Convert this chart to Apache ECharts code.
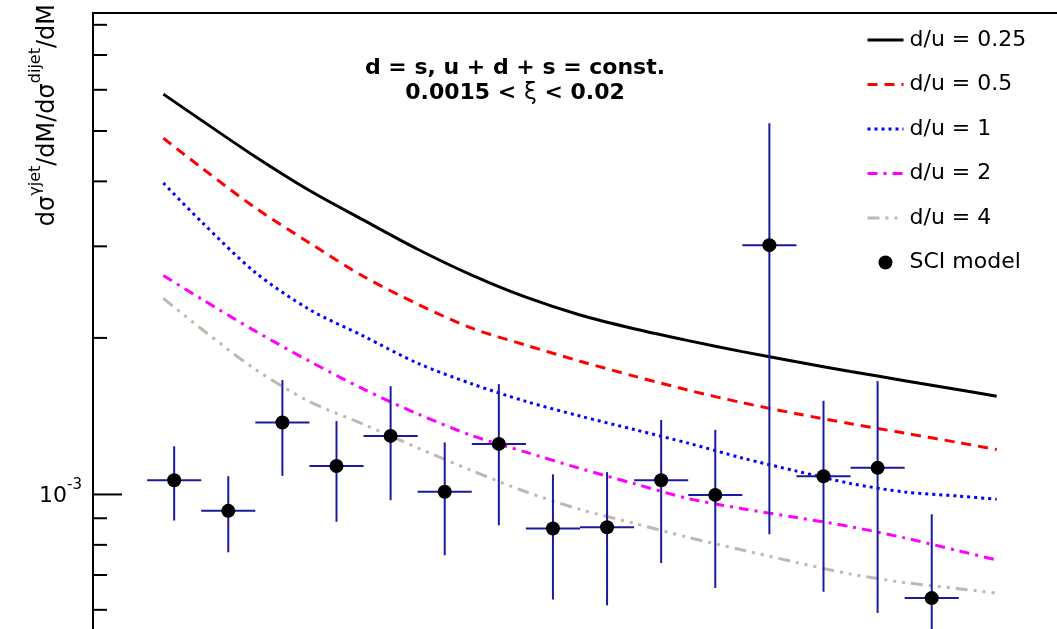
<!DOCTYPE html>
<html>
<head>
<meta charset="utf-8">
<script src="https://cdn.jsdelivr.net/npm/echarts@6/dist/echarts.min.js"></script>
<style>
  html, body { margin: 0; padding: 0; background: #fff; }
  #chart { width: 1057px; height: 629px; }
</style>
</head>
<body>
<div id="chart"></div>
<script>
// mass grid for the model curves
const massGrid = [33, 40, 50, 60, 70, 80, 90, 100, 110, 120, 130, 140, 150, 160, 170, 180, 187]
const du025 = [5.886e-3, 5.246e-3, 4.461e-3, 3.841e-3, 3.369e-3, 2.962e-3, 2.641e-3, 2.395e-3, 2.214e-3, 2.083e-3, 1.976e-3, 1.882e-3, 1.799e-3, 1.724e-3, 1.655e-3, 1.590e-3, 1.545e-3]
const du05 = [4.843e-3, 4.253e-3, 3.558e-3, 3.046e-3, 2.625e-3, 2.323e-3, 2.088e-3, 1.937e-3, 1.804e-3, 1.689e-3, 1.587e-3, 1.501e-3, 1.430e-3, 1.368e-3, 1.312e-3, 1.258e-3, 1.220e-3]
const du1 = [3.970e-3, 3.348e-3, 2.672e-3, 2.268e-3, 2.016e-3, 1.788e-3, 1.632e-3, 1.510e-3, 1.415e-3, 1.333e-3, 1.255e-3, 1.175e-3, 1.109e-3, 1.050e-3, 1.011e-3, 0.993e-3, 0.979e-3]
const du2 = [2.636e-3, 2.378e-3, 2.061e-3, 1.804e-3, 1.594e-3, 1.429e-3, 1.298e-3, 1.206e-3, 1.122e-3, 1.049e-3, 0.982e-3, 0.939e-3, 0.903e-3, 0.867e-3, 0.825e-3, 0.779e-3, 0.748e-3]
const du4 = [2.383e-3, 2.083e-3, 1.740e-3, 1.509e-3, 1.364e-3, 1.229e-3, 1.111e-3, 1.012e-3, 0.936e-3, 0.880e-3, 0.827e-3, 0.782e-3, 0.740e-3, 0.703e-3, 0.677e-3, 0.659e-3, 0.646e-3]

// SCI model points
const binCenters = [35, 45, 55, 65, 75, 85, 95, 105, 115, 125, 135, 145, 155, 165, 175]
const binHalfWidth = 5
const sciValues = [1.065e-3, 0.930e-3, 1.375e-3, 1.134e-3, 1.296e-3, 1.012e-3, 1.251e-3, 0.860e-3, 0.865e-3, 1.065e-3, 0.998e-3, 3.016e-3, 1.084e-3, 1.125e-3, 0.632e-3]
const sciLow = [0.891e-3, 0.774e-3, 1.086e-3, 0.886e-3, 0.975e-3, 0.764e-3, 0.872e-3, 0.628e-3, 0.612e-3, 0.738e-3, 0.661e-3, 0.838e-3, 0.650e-3, 0.592e-3, 0.40e-3]
const sciHigh = [1.238e-3, 1.084e-3, 1.659e-3, 1.384e-3, 1.615e-3, 1.259e-3, 1.630e-3, 1.093e-3, 1.104e-3, 1.390e-3, 1.331e-3, 5.176e-3, 1.514e-3, 1.652e-3, 0.916e-3]

// y axis ticks (log)
const yTicks = [6e-4, 7e-4, 8e-4, 9e-4, 1e-3, 2e-3, 3e-3, 4e-3, 5e-3, 6e-3, 7e-3, 8e-3]
const yLabelled = [1e-3]

const xMin = 20
const xMax = 200
const yMin = 5e-4
const yMax = 8.43e-3

const font = 'DejaVu Sans, Liberation Sans, Arial, sans-serif'
const errColor = '#1a1a9e'

const curve = (ys) => massGrid.map((x, i) => [x, ys[i]])

const lineSeries = (name, ys, color, type) => ({
  name,
  type: 'line',
  data: curve(ys),
  showSymbol: false,
  symbol: 'none',
  smooth: 0.3,
  lineStyle: { color, width: 3, type },
  itemStyle: { color },
  z: 3
})

// legend entries for lines: hide the default dot on the icon
const lineLegend = (name) => ({ name, itemStyle: { opacity: 0 } })

const chart = echarts.init(document.getElementById('chart'))

chart.setOption({
  animation: false,
  grid: {
    left: 93,
    top: 13,
    right: -10,
    bottom: -22,
    outerBoundsMode: 'none',
    containLabel: false,
    show: true,
    borderColor: '#000',
    borderWidth: 2,
    backgroundColor: 'transparent'
  },
  xAxis: {
    type: 'value',
    min: xMin,
    max: xMax,
    show: false
  },
  yAxis: {
    type: 'log',
    logBase: 10,
    min: yMin,
    max: yMax,
    axisLine: { show: true, lineStyle: { color: '#000', width: 2 } },
    axisTick: { show: false },
    axisLabel: { show: false },
    splitLine: { show: false },
    minorTick: { show: false }
  },
  legend: {
    orient: 'vertical',
    left: 866,
    top: 28,
    padding: 0,
    itemWidth: 36,
    itemHeight: 14,
    itemGap: 20.5,
    lineStyle: { width: 3 },
    data: [
      lineLegend('d/u = 0.25'),
      lineLegend('d/u = 0.5'),
      lineLegend('d/u = 1'),
      lineLegend('d/u = 2'),
      lineLegend('d/u = 4'),
      'SCI model'
    ],
    textStyle: {
      fontFamily: font,
      fontSize: 22,
      lineHeight: 24,
      color: '#000',
      padding: [0, 0, 0, 1]
    }
  },
  graphic: [
    {
      type: 'text',
      x: 515,
      y: 56,
      style: {
        text: '{b|d = s, u + d + s = const.}\n{b|0.0015 < }{g|ξ}{b| < 0.02}',
        align: 'center',
        verticalAlign: 'top',
        rich: {
          b: { fontFamily: font, fontWeight: 'bold', fontSize: 22, lineHeight: 25, fill: '#000' },
          g: { fontFamily: font, fontSize: 23, lineHeight: 25, fill: '#000' }
        }
      }
    },
    {
      type: 'text',
      x: 44,
      y: 4,
      rotation: Math.PI / 2,
      style: {
        text: '{a|dσ}{s|γjet}{a|/dM/dσ}{s|dijet}{a|/dM}',
        align: 'right',
        verticalAlign: 'middle',
        rich: {
          a: { fontFamily: font, fontSize: 24, lineHeight: 32, fill: '#000', verticalAlign: 'bottom' },
          s: { fontFamily: font, fontSize: 16, lineHeight: 17, fill: '#000', verticalAlign: 'top' }
        }
      }
    }
  ],
  series: [
    lineSeries('d/u = 0.25', du025, '#000000', 'solid'),
    lineSeries('d/u = 0.5', du05, '#ff0000', [10, 7]),
    lineSeries('d/u = 1', du1, '#0000ff', [3, 4]),
    lineSeries('d/u = 2', du2, '#ff00ff', [10, 6, 3, 6]),
    lineSeries('d/u = 4', du4, '#c0b8ae', [12, 6, 3, 6, 3, 6, 3, 6]),
    {
      name: 'sci-errors',
      type: 'custom',
      clip: false,
      z: 4,
      data: binCenters.map((x, i) => [x, sciValues[i], sciLow[i], sciHigh[i], binHalfWidth]),
      encode: { x: 0, y: 1 },
      renderItem: (params, api) => {
        const x = api.value(0)
        const y = api.value(1)
        const hw = api.value(4)
        const c = api.coord([x, y])
        const l = api.coord([x - hw, y])
        const r = api.coord([x + hw, y])
        const top = api.coord([x, api.value(3)])
        const bot = api.coord([x, api.value(2)])
        const st = { stroke: errColor, lineWidth: 2 }
        return {
          type: 'group',
          children: [
            { type: 'line', shape: { x1: l[0], y1: c[1], x2: r[0], y2: c[1] }, style: st },
            { type: 'line', shape: { x1: c[0], y1: top[1], x2: c[0], y2: bot[1] }, style: st }
          ]
        }
      }
    },
    {
      name: 'SCI model',
      type: 'scatter',
      data: binCenters.map((x, i) => [x, sciValues[i]]),
      symbol: 'circle',
      symbolSize: 14,
      itemStyle: { color: '#000', opacity: 1 },
      z: 5
    },
    {
      name: 'y-ticks',
      type: 'custom',
      clip: false,
      z: 6,
      data: yTicks.map(v => [xMin, v]),
      encode: { x: 0, y: 1 },
      renderItem: (params, api) => {
        const v = api.value(1)
        const p = api.coord([api.value(0), v])
        const major = yLabelled.includes(v)
        const children = [{
          type: 'line',
          shape: { x1: p[0], y1: p[1], x2: p[0] + (major ? 29 : 14), y2: p[1] },
          style: { stroke: '#000', lineWidth: 2 }
        }]
        if (major) {
          const exp = Math.round(Math.log10(v))
          children.push({
            type: 'text',
            x: p[0] - 11,
            y: p[1] - 2,
            style: {
              text: '{b|10}{s|' + exp + '}',
              align: 'right',
              verticalAlign: 'middle',
              rich: {
                b: { fontFamily: font, fontSize: 22, lineHeight: 30, fill: '#000', verticalAlign: 'bottom' },
                s: { fontFamily: font, fontSize: 15, lineHeight: 16, fill: '#000', verticalAlign: 'top' }
              }
            }
          })
        }
        return { type: 'group', children }
      }
    }
  ]
})
</script>
</body>
</html>
